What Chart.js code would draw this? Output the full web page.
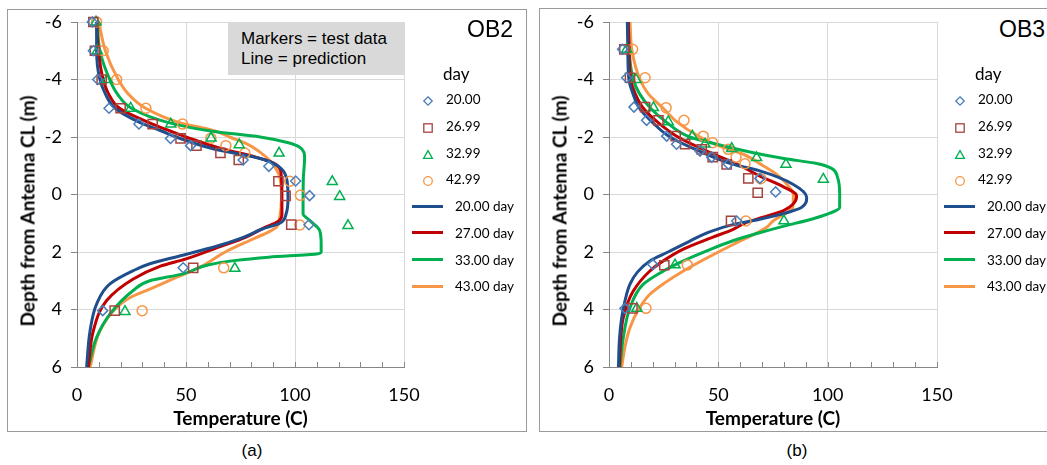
<!DOCTYPE html>
<html>
<head>
<meta charset="utf-8">
<title>Temperature vs depth, OB2 and OB3</title>
<script src="https://cdn.jsdelivr.net/npm/chart.js@4.4.1/dist/chart.umd.min.js"></script>
<style>
  html, body { margin: 0; padding: 0; background: #fff; }
  body { position: relative; width: 1047px; height: 465px; overflow: hidden; font-family: "Liberation Sans", Arial, sans-serif; color: #000; }
  .panel { position: absolute; top: 0; height: 465px; width: 540px; }
  .frame { position: absolute; left: 7px; top: 9px; width: 520px; height: 423px; border: 1px solid #9a9a9a; box-sizing: border-box; }
  .panel canvas { position: absolute; left: 0; top: 0; }
  .ytitle { position: absolute; left: 27px; top: 211px; transform: translate(-50%, -50%) rotate(-90deg); font: bold 19px Lato, sans-serif; white-space: nowrap; }
  .tag { position: absolute; left: 467px; top: 18px; font-size: 23px; line-height: 23px; }
  .note { position: absolute; left: 228px; top: 22px; width: 177px; height: 53px; background: #d9d9d9; box-sizing: border-box; padding: 7px 0 0 13px; font-size: 17px; line-height: 20px; white-space: nowrap; }
  .legend-title { position: absolute; left: 443px; top: 64px; font: 17px Lato, sans-serif; line-height: 20px; }
  .legend-text { position: absolute; font: 13.5px Lato, sans-serif; line-height: 20px; white-space: nowrap; }
  .legend-mark { position: absolute; }
  .caption { position: absolute; top: 441px; font-size: 17px; line-height: 20px; transform: translateX(-50%); }
</style>
</head>
<body>

<div class="panel" id="panelA" style="left:0">
  <div class="frame"></div>
  <canvas id="chartA" width="440" height="440"></canvas>
  <div class="ytitle">Depth from Antenna CL (m)</div>
  <div class="note">Markers = test data<br>Line = prediction</div>
  <div class="tag">OB2</div>
  <div class="legend-title">day</div>
</div>
<div class="caption" style="left:252px">(a)</div>

<div class="panel" id="panelB" style="left:532px">
  <div class="frame" style="top:8px;height:424px"></div>
  <canvas id="chartB" width="441" height="440"></canvas>
  <div class="ytitle">Depth from Antenna CL (m)</div>
  <div class="tag">OB3</div>
  <div class="legend-title">day</div>
</div>
<div class="caption" style="left:797px">(b)</div>

<script>
// series names and axis ticks
const markerLabels = ['20.00', '26.99', '32.99', '42.99'];
const lineLabels = ['20.00 day', '27.00 day', '33.00 day', '43.00 day'];
const xTicks = [0, 50, 100, 150];
const yTicks = [-6, -4, -2, 0, 2, 4, 6];

// OB2 test data: depth (m) / temperature (C)
const ob2TestDepth20 = [-6, -5, -4, -3, -2.45, -1.95, -1.7, -1.2, -0.98, -0.47, 0.04, 1.05, 2.55, 4.04];
const ob2TestTemp20  = [7, 7.5, 9.5, 14.7, 28.4, 42.9, 52.1, 76.2, 88, 100.3, 106.7, 106.4, 48.7, 11.8];
const ob2TestDepth27 = [-6, -5, -4, -3, -2.45, -1.95, -1.7, -1.45, -1.2, -0.46, 0.05, 1.05, 2.55, 4.04];
const ob2TestTemp27  = [7.5, 8.2, 11.3, 20, 34.7, 47.5, 54.8, 65.8, 74.2, 92.4, 95.7, 98.3, 53.3, 17.3];
const ob2TestDepth33 = [-6, -5, -4, -3, -2.45, -1.96, -1.73, -1.44, -0.45, 0.07, 1.08, 2.57, 4.07];
const ob2TestTemp33  = [8.7, 9.3, 13.9, 24.6, 43, 61.5, 74.4, 92.7, 117.1, 120.5, 124.3, 72.4, 22];
const ob2TestDepth43 = [-6, -5, -4, -3, -2.45, -1.96, -1.7, -1.44, -0.46, 0.03, 1.06, 2.55, 4.04];
const ob2TestTemp43  = [9, 12, 18.2, 31.6, 48.4, 61.4, 68.3, 77, 97.6, 102.5, 102.2, 67.3, 29.9];

// OB2 predictions
const ob2PredDepth20 = [-6, -5, -4, -3.5, -3, -2.5, -2.2, -2, -1.6, -1.25, -1, -0.6, 0.1, 0.65, 1, 1.2, 1.5, 1.8, 2.12, 2.41, 2.65, 3.11, 3.81, 4.74, 6];
const ob2PredTemp20  = [9, 9, 10.5, 13, 17.5, 29, 39, 45.5, 62, 84, 92, 96, 96.8, 96, 93, 85, 76, 64, 48, 33.4, 25.8, 15.1, 9, 6, 4.4];
const ob2PredDepth27 = [-6, -5, -4, -3.5, -3, -2.5, -2.2, -2, -1.6, -1.3, -1.1, -0.8, 0, 0.7, 0.95, 1.15, 1.5, 1.8, 2.24, 2.5, 2.94, 3.69, 4.74, 6];
const ob2PredTemp27  = [9, 9.8, 12, 14.5, 19.5, 33, 43, 50, 66, 82, 90, 93.5, 94, 94, 92, 86, 77, 66, 50, 38, 25.8, 13.6, 7.5, 5.2];
const ob2PredDepth33 = [-6, -5, -4, -3.5, -3, -2.5, -2.2, -2, -1.8, -1.65, -1.3, -0.5, 0.67, 0.9, 1.25, 1.7, 2, 2.07, 2.18, 2.3, 2.45, 2.76, 3, 3.34, 4.16, 4.97, 6];
const ob2PredTemp33  = [9.3, 10.5, 15, 18.5, 25, 42, 62, 84, 97, 102, 104.4, 103.8, 103.7, 106.7, 111.3, 112, 112, 109.8, 88, 72, 60, 48.7, 33.4, 25.8, 15.1, 9, 5.2];
const ob2PredDepth43 = [-6, -5, -4, -3.5, -3, -2.5, -2.23, -2, -1.77, -1.5, -1.18, -0.6, 0.09, 0.79, 1.14, 1.3, 1.6, 2, 2.53, 2.9, 3.29, 3.6, 3.93, 4.74, 6];
const ob2PredTemp43  = [10, 13, 18.9, 23.5, 31.5, 47, 62.4, 70, 77.7, 83.5, 88.4, 93, 93.8, 93, 91.5, 88, 79.2, 68, 56.3, 45, 33.4, 24, 18.2, 10.5, 6];

// OB3 test data
const ob3TestDepth20 = [-5.05, -4.06, -3.04, -2.58, -2.03, -1.75, -1.51, -1.3, -1.05, -0.56, -0.09, 0.92, 2.43, 3.96];
const ob3TestTemp20  = [6.2, 8.1, 11.4, 17.2, 26.4, 30.9, 41.6, 47, 54.6, 69, 76.2, 58.4, 20, 7.3];
const ob3TestDepth27 = [-5.05, -4.06, -3.04, -2.58, -2.03, -1.75, -1.57, -1.3, -1.05, -0.56, -0.06, 0.92, 2.46, 3.96];
const ob3TestTemp27  = [7, 9.6, 16.5, 22.6, 30.5, 34.8, 42.4, 47.4, 53.8, 63.7, 68, 55.8, 25.3, 10.7];
const ob3TestDepth33 = [-5.05, -4, -3.02, -2.53, -2.03, -1.75, -1.6, -1.28, -1.05, -0.53, 0.92, 2.45, 3.96];
const ob3TestTemp33  = [8.1, 12.3, 20.3, 27.1, 38.1, 43.9, 56.1, 67.5, 80.9, 98, 80, 30.2, 12.7];
const ob3TestDepth43 = [-5.05, -4.06, -3.02, -2.58, -2.03, -1.8, -1.57, -1.3, -1.07, -0.55, 0.92, 2.45, 3.96];
const ob3TestTemp43  = [10.8, 16.5, 26.1, 34.3, 43.1, 47.4, 54.5, 58.1, 62.2, 69.4, 62.6, 35.8, 16.9];

// OB3 predictions
const ob3PredDepth20 = [-6, -5, -4, -3.5, -3, -2.5, -2, -1.5, -1.05, -0.82, -0.35, 0.1, 0.45, 0.7, 0.86, 1.04, 1.3, 1.62, 2, 2.31, 2.7, 3.12, 3.7, 4.29, 5, 6];
const ob3PredTemp20  = [8.4, 8.6, 9.1, 11, 13.9, 20, 27.9, 41.6, 56.8, 69, 84.3, 90.4, 88, 78, 69, 57, 46, 37, 27, 18.7, 13, 9.6, 7.3, 5.8, 4.8, 4.3];
const ob3PredDepth27 = [-6, -5, -4, -3.5, -3, -2.5, -2, -1.5, -1, -0.64, -0.3, 0.05, 0.35, 0.55, 0.8, 1, 1.21, 1.5, 1.9, 2.3, 2.66, 3.36, 4.29, 5, 6];
const ob3PredTemp27  = [8.8, 9.2, 9.9, 12, 15.7, 22.5, 31.5, 45, 60, 69, 79, 85.8, 84, 80, 70, 62, 56.8, 47, 34, 25, 18.7, 11.1, 6.5, 5.4, 4.7];
const ob3PredDepth33 = [-6, -5, -4, -3.5, -3, -2.5, -2, -1.7, -1.45, -1.25, -1.08, -0.9, -0.6, 0, 0.45, 0.65, 0.85, 1.1, 1.35, 1.6, 1.95, 2.31, 2.7, 3.12, 3.94, 5, 6];
const ob3PredTemp33  = [8.8, 9.2, 11.1, 14, 19, 26.5, 37, 52, 66, 80, 95, 102, 104.5, 105.5, 105.5, 101, 93, 80, 68, 57, 45, 34, 24, 15.7, 9.6, 6.5, 5];
const ob3PredDepth43 = [-6, -5, -4, -3.5, -3, -2.5, -2, -1.7, -1.4, -1, -0.7, -0.3, 0, 0.46, 0.6, 0.92, 1.15, 1.4, 1.73, 2.2, 2.66, 3.1, 3.47, 4, 4.63, 5.3, 6];
const ob3PredTemp43  = [9.6, 10.5, 14.2, 18, 24.8, 31.5, 41.6, 50, 61.4, 70.5, 76.7, 82, 84.3, 84, 82, 75, 72, 66, 57, 45, 34, 25, 18.7, 13.5, 9.6, 7.3, 5.8];

// marker / line looks
const markerStyles = [
  { pointStyle: 'rectRot', color: '#4a7ebb', radius: 5 },
  { pointStyle: 'rect', color: '#a5433f', radius: 6.5 },
  { pointStyle: 'triangle', color: '#00b050', radius: 5.8 },
  { pointStyle: 'circle', color: '#f79646', radius: 5 }
];
const lineColors = ['#1f4e8c', '#c00000', '#00b050', '#f79646'];

function pts(temps, depths) {
  return temps.map((t, i) => ({ x: t, y: depths[i] }));
}

// small tick marks along the temperature axis, every 10 C
const minorTicks = {
  id: 'minorTicks',
  beforeDatasetsDraw(chart) {
    const { ctx, chartArea } = chart;
    const x = chart.scales.x;
    ctx.save();
    ctx.strokeStyle = '#868686';
    ctx.lineWidth = 1;
    for (let v = x.min; v <= x.max; v += 10) {
      const px = Math.round(x.getPixelForValue(v)) + 0.5;
      ctx.beginPath();
      ctx.moveTo(px, chartArea.bottom);
      ctx.lineTo(px, chartArea.bottom - 5);
      ctx.stroke();
    }
    ctx.restore();
  }
};

function buildChart(id, tests, preds) {
  const datasets = [];
  tests.forEach((s, i) => {
    const m = markerStyles[i];
    datasets.push({
      label: markerLabels[i],
      data: pts(s[0], s[1]),
      showLine: false,
      pointStyle: m.pointStyle,
      pointRadius: m.radius,
      pointBorderWidth: 1.5,
      borderColor: m.color,
      pointBackgroundColor: 'rgba(0,0,0,0)',
      clip: false
    });
  });
  preds.forEach((s, i) => {
    datasets.push({
      label: lineLabels[i],
      data: pts(s[0], s[1]),
      indexAxis: 'y',
      cubicInterpolationMode: 'monotone',
      borderColor: lineColors[i],
      borderWidth: 3,
      pointRadius: 0,
      fill: false,
      clip: false
    });
  });

  // right padding is wider than the "150" label plus its padding, so the plot edge is fixed
  return new Chart(document.getElementById(id), {
    type: 'line',
    data: { datasets },
    options: {
      responsive: false,
      animation: false,
      events: [],
      layout: { padding: { left: 10, top: 22, right: 36, bottom: 9.6 } },
      plugins: { legend: { display: false }, tooltip: { enabled: false } },
      scales: {
        x: {
          type: 'linear', min: 0, max: 150,
          afterBuildTicks: s => { s.ticks = xTicks.map(v => ({ value: v })); },
          afterFit: s => { s.height = 63.4; },
          grid: { color: '#d9d9d9', drawTicks: false },
          border: { color: '#868686' },
          ticks: { padding: 17, color: '#000', font: { family: 'Lato', size: 18 } },
          title: { display: true, text: 'Temperature (C)', color: '#000', padding: 0,
                   font: { family: 'Lato', size: 19, weight: 'bold' } }
        },
        y: {
          type: 'linear', min: -6, max: 6, reverse: true,
          afterBuildTicks: s => { s.ticks = yTicks.map(v => ({ value: v })); },
          afterFit: s => { s.width = 67; },
          grid: { color: '#d9d9d9', tickColor: '#868686', tickLength: 6 },
          border: { color: '#868686' },
          ticks: { padding: 9, color: '#000', font: { family: 'Lato', size: 18 } }
        }
      }
    },
    plugins: [minorTicks]
  });
}

function markerSvg(style, color) {
  let shape;
  if (style === 'rectRot') shape = '<polygon points="6,1.8 10.2,6 6,10.2 1.8,6"/>';
  else if (style === 'rect') shape = '<rect x="1.8" y="1.8" width="8.4" height="8.4"/>';
  else if (style === 'triangle') shape = '<polygon points="6,1.6 10.4,9.4 1.6,9.4"/>';
  else shape = '<circle cx="6" cy="6" r="4.3"/>';
  return '<svg width="12" height="12" viewBox="0 0 12 12" fill="none" stroke="' + color +
         '" stroke-width="1.3">' + shape + '</svg>';
}

// legend to the right of each plot
function addLegend(panelId) {
  const panel = document.getElementById(panelId);
  const rowY = [99.3, 126, 152.7, 179.4, 206.1, 232.8, 259.5, 286.2];
  let html = '';
  markerLabels.forEach((lab, i) => {
    const m = markerStyles[i];
    html += '<div class="legend-mark" style="left:' + (428.3 - 6) + 'px;top:' + (rowY[i] - 6) + 'px">' +
            markerSvg(m.pointStyle, m.color) + '</div>';
    html += '<div class="legend-text" style="left:446px;top:' + (rowY[i] - 10) + 'px">' + lab + '</div>';
  });
  lineLabels.forEach((lab, i) => {
    const y = rowY[i + 4];
    html += '<div class="legend-mark" style="left:412px;top:' + (y - 1.5) + 'px;width:31px;height:3px;background:' +
            lineColors[i] + '"></div>';
    html += '<div class="legend-text" style="left:455px;top:' + (y - 10) + 'px">' + lab + '</div>';
  });
  panel.insertAdjacentHTML('beforeend', html);
}

buildChart('chartA',
  [[ob2TestTemp20, ob2TestDepth20], [ob2TestTemp27, ob2TestDepth27], [ob2TestTemp33, ob2TestDepth33], [ob2TestTemp43, ob2TestDepth43]],
  [[ob2PredTemp20, ob2PredDepth20], [ob2PredTemp27, ob2PredDepth27], [ob2PredTemp33, ob2PredDepth33], [ob2PredTemp43, ob2PredDepth43]]);
buildChart('chartB',
  [[ob3TestTemp20, ob3TestDepth20], [ob3TestTemp27, ob3TestDepth27], [ob3TestTemp33, ob3TestDepth33], [ob3TestTemp43, ob3TestDepth43]],
  [[ob3PredTemp20, ob3PredDepth20], [ob3PredTemp27, ob3PredDepth27], [ob3PredTemp33, ob3PredDepth33], [ob3PredTemp43, ob3PredDepth43]]);
addLegend('panelA');
addLegend('panelB');
</script>
</body>
</html>
